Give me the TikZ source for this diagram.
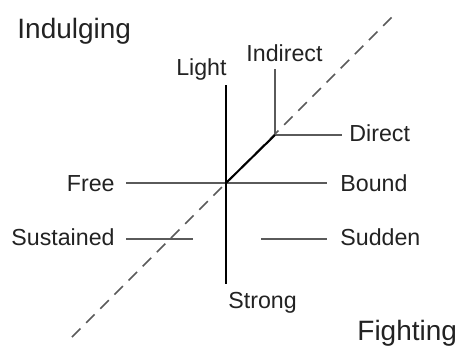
\documentclass[tikz,border=0pt]{standalone}
\usepackage{fontspec}
\setmainfont{Liberation Sans}
\definecolor{Ink}{HTML}{222222}
\definecolor{Axis}{HTML}{5A5A5A}

\tikzset{
    lbl/.style={inner sep=0pt, text=Ink, font=\fontsize{11.6}{13}\selectfont},
    big/.style={lbl, font=\fontsize{14}{16}\selectfont},
    hline/.style={draw=Axis, line width=0.8pt},
    vline/.style={draw=black, line width=0.7pt},
}

\begin{document}
\begin{tikzpicture}[x=0.5pt, y=-0.5pt]
    \useasboundingbox (0,0) rectangle (458,345);

    % corner labels
    \node[big, anchor=base west] (indulging) at (17,38) {Indulging};
    \node[big, anchor=base west] (fighting) at (357,340) {Fighting};

    % axis ends
    \coordinate (c) at (226,183);
    \coordinate (ltop) at (226,85);
    \coordinate (sbot) at (226,284);
    \coordinate (fl) at (126,183);
    \coordinate (br) at (327,183);
    \coordinate (sul) at (126,239);
    \coordinate (sur) at (193,239);
    \coordinate (sdl) at (261,239);
    \coordinate (sdr) at (327,239);
    \coordinate (k) at (275,135);
    \coordinate (itop) at (275,69);
    \coordinate (dr) at (342,135);
    \coordinate (dlo) at (72,337);
    \coordinate (dhi) at (396,13);

    % labels
    \node[lbl, anchor=base east] (light) at (227,75) {Light};
    \node[lbl, anchor=base west] (indirect) at (246,61) {Indirect};
    \node[lbl, anchor=base west] (direct) at (349,141) {Direct};
    \node[lbl, anchor=base east] (free) at (115,191) {Free};
    \node[lbl, anchor=base west] (bound) at (340,191) {Bound};
    \node[lbl, anchor=base east] (sustained) at (115,245) {Sustained};
    \node[lbl, anchor=base west] (sudden) at (340,245) {Sudden};
    \node[lbl, anchor=base west] (strong) at (228,308) {Strong};

    % dashed diagonal
    \draw[Axis, line width=0.8pt, dash pattern=on 6pt off 4pt] (dlo) -- (dhi);

    % lines
    \draw[hline] (fl) -- (br);
    \draw[hline] (sul) -- (sur);
    \draw[hline] (sdl) -- (sdr);
    \draw[hline] (k) -- (dr);
    \draw[vline] (ltop) -- (sbot);
    \draw[vline, draw=Axis] (itop) -- (k);
    \draw[black, line width=1pt] (c) -- (k);
\end{tikzpicture}
\end{document}
